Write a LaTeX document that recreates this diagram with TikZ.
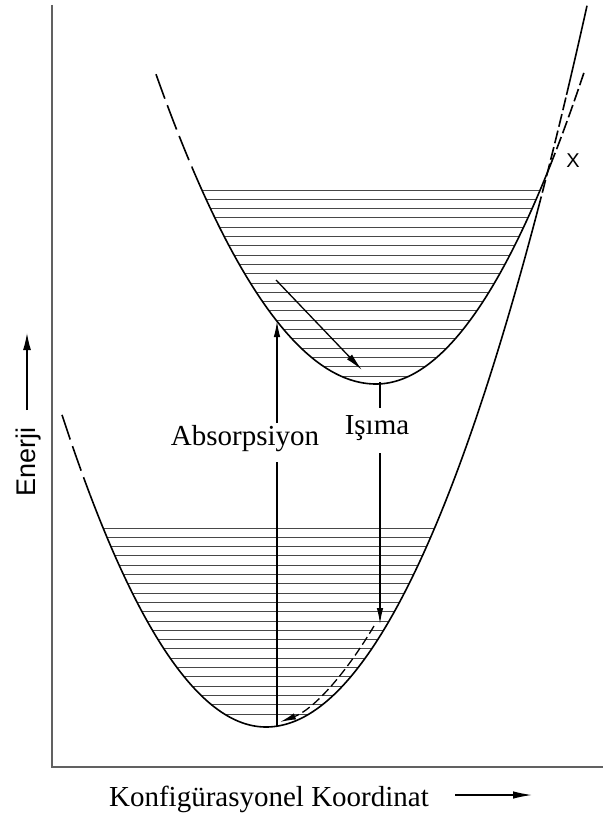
\documentclass[tikz,border=0pt]{standalone}
\usepackage{fontspec}
\setmainfont{Liberation Serif}
\setsansfont{Liberation Sans}
\usetikzlibrary{arrows.meta}
\begin{document}
\begin{tikzpicture}[x=1pt,y=-1pt,
  curve/.style={line width=1.6pt, black},
  longdash/.style={dash pattern=on 26pt off 7pt},
  shortdash/.style={dash pattern=on 13pt off 4pt},
  hatch/.style={line width=0.9pt, black!72},
  axis/.style={line width=1.4pt, black!62},
  shaft/.style={line width=1.3pt, black},
  tipped/.style={-{Latex[length=16pt,width=6.5pt]}},
  lbl/.style={font=\fontsize{29}{32}\selectfont, inner sep=0pt},
  sflbl/.style={font=\sffamily\fontsize{27}{30}\selectfont, inner sep=0pt}
]
\useasboundingbox (0,0) rectangle (603,821);
\fill[white] (0,0) rectangle (603,821);

% axes
\coordinate (ytop) at (52,5);
\coordinate (orig) at (52,767);
\coordinate (xend) at (603,767);
\draw[axis] (ytop) -- (orig) -- (xend);

% hatching, upper well
\foreach \i in {0,...,20}{
  \pgfmathsetmacro\yy{190+9.3*\i}
  \pgfmathsetmacro\xl{376-12.5*sqrt(384-\yy)}
  \pgfmathsetmacro\xr{376+11.785*sqrt(384-\yy)}
  \draw[hatch] (\xl,\yy) -- (\xr,\yy);
}
% hatching, lower well
\foreach \i in {0,...,20}{
  \pgfmathsetmacro\yy{528+9.3*\i}
  \pgfmathsetmacro\xl{266-11.547*sqrt(727-\yy)}
  \pgfmathsetmacro\xr{266+11.952*sqrt(727-\yy)}
  \draw[hatch] (\xl,\yy) -- (\xr,\yy);
}

% upper curve
\draw[curve,longdash] plot[domain=156:192,samples=30] ({\x},{384-(0.08*(\x-376))^2});
\draw[curve] plot[domain=192:376,samples=80] ({\x},{384-(0.08*(\x-376))^2});
\draw[curve] plot[domain=376:550.4,samples=80] ({\x},{384-(0.084853*(\x-376))^2});
\draw[curve,shortdash] plot[domain=550.4:584,samples=40] ({\x},{384-(0.084853*(\x-376))^2});

% lower curve
\draw[curve,longdash] plot[domain=62:90,samples=30] ({\x},{727-(0.086603*(\x-266))^2});
\draw[curve] plot[domain=90:266,samples=80] ({\x},{727-(0.086603*(\x-266))^2});
\draw[curve] plot[domain=266:538,samples=100] ({\x},{727-(0.083666*(\x-266))^2});
\draw[curve,shortdash] plot[domain=538:566.5,samples=40] ({\x},{727-(0.083666*(\x-266))^2});
\draw[curve] plot[domain=566.5:587,samples=30] ({\x},{727-(0.083666*(\x-266))^2});

% crossing label
\node[font=\sffamily\fontsize{20}{22}\selectfont, inner sep=0pt] (xlbl) at (573,161) {X};

% absorption
\coordinate (absbot) at (277,726);
\coordinate (absgapB) at (277,462);
\coordinate (absgapA) at (277,423);
\coordinate (abstop) at (277,321);
\draw[shaft] (absbot) -- (absgapB);
\draw[shaft,tipped] (absgapA) -- (abstop);
\node[lbl,anchor=base] (abs) at (245,445) {Absorpsiyon};

% relaxation in upper well
\coordinate (relA) at (276,280);
\coordinate (relB) at (362,370);
\draw[shaft,-{Latex[length=18pt,width=7pt]}] (relA) -- (relB);

% emission
\coordinate (emtop) at (380,382);
\coordinate (emgapA) at (380,408);
\coordinate (emgapB) at (380,453);
\coordinate (emtip) at (380,624);
\draw[shaft] (emtop) -- (emgapA);
\draw[shaft,tipped] (emgapB) -- (emtip);
\node[lbl,anchor=base] (ism) at (377,434) {Işıma};

% relaxation in lower well (dashed)
\coordinate (lrA) at (374,626);
\coordinate (lrB) at (280,722);
\draw[shaft,dash pattern=on 9pt off 4pt,-{Latex[length=16pt,width=6.5pt]}]
  (lrA) .. controls (343,678) and (312,710) .. (lrB);

% axis labels
\node[sflbl,rotate=90,anchor=base] (en) at (35,462) {Enerji};
\coordinate (enA) at (27,410);
\coordinate (enB) at (27,333);
\draw[shaft,-{Latex[length=17pt,width=8pt]}] (enA) -- (enB);

\node[lbl,anchor=base] (kk) at (269,806) {Konfigürasyonel Koordinat};
\coordinate (kA) at (455,795);
\coordinate (kB) at (532,795);
\draw[shaft,-{Latex[length=19pt,width=7.5pt]}] (kA) -- (kB);
\end{tikzpicture}
\end{document}
